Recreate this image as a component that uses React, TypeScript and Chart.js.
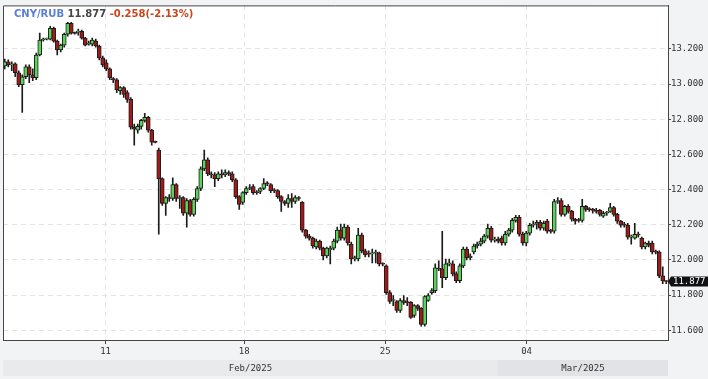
import React, { useEffect, useRef } from "react";
import { Chart, registerables } from "chart.js";
Chart.register(...registerables);

const symbol = "CNY/RUB";
const prevClose = 12.135;

const openP = [
  13.104, 13.127, 13.110, 13.115, 13.065, 12.997, 13.042, 13.098, 13.053, 13.037,
  13.166, 13.251, 13.256, 13.256, 13.318, 13.245, 13.194, 13.222, 13.284, 13.346,
  13.290, 13.296, 13.301, 13.262, 13.228, 13.228, 13.245, 13.217, 13.149, 13.121,
  13.087, 13.031, 13.025, 12.963, 12.980, 12.952, 12.913, 12.755, 12.738, 12.760,
  12.794, 12.811, 12.738, 12.670, 12.625, 12.462, 12.321, 12.355, 12.349, 12.428,
  12.349, 12.355, 12.265, 12.338, 12.259, 12.344, 12.406, 12.518, 12.569, 12.490,
  12.484, 12.462, 12.490, 12.484, 12.496, 12.490, 12.456, 12.360, 12.327, 12.383,
  12.406, 12.417, 12.383, 12.389, 12.406, 12.434, 12.428, 12.394, 12.394, 12.360,
  12.332, 12.321, 12.349, 12.332, 12.355, 12.327, 12.169, 12.135, 12.124, 12.073,
  12.107, 12.067, 12.022, 12.056, 12.067, 12.107, 12.169, 12.124, 12.186, 12.090,
  12.005, 12.005, 12.141, 12.051, 12.034, 12.034, 12.039, 12.039, 11.977, 11.966,
  11.814, 11.769, 11.763, 11.712, 11.769, 11.758, 11.758, 11.684, 11.740, 11.724,
  11.633, 11.769, 11.814, 11.825, 11.949, 11.949, 11.898, 11.977, 11.977, 11.920,
  11.882, 11.966, 12.062, 12.011, 12.045, 12.079, 12.090, 12.107, 12.135, 12.180,
  12.112, 12.118, 12.124, 12.096, 12.146, 12.169, 12.225, 12.242, 12.146, 12.096,
  12.152, 12.197, 12.203, 12.214, 12.180, 12.220, 12.163, 12.163, 12.332, 12.338,
  12.259, 12.304, 12.276, 12.231, 12.225, 12.225, 12.304, 12.287, 12.287, 12.282,
  12.282, 12.248, 12.265, 12.276, 12.298, 12.259, 12.220, 12.203, 12.197, 12.129,
  12.124, 12.146, 12.124, 12.073, 12.096, 12.096, 12.045, 12.045, 11.909, 11.880,
];

const highP = [
  13.143, 13.138, 13.127, 13.121, 13.076, 13.053, 13.110, 13.110, 13.087, 13.177,
  13.290, 13.262, 13.262, 13.329, 13.324, 13.251, 13.228, 13.290, 13.352, 13.352,
  13.296, 13.313, 13.307, 13.267, 13.245, 13.262, 13.256, 13.222, 13.160, 13.138,
  13.093, 13.037, 13.031, 12.986, 12.986, 12.963, 12.924, 12.772, 12.772, 12.800,
  12.834, 12.817, 12.743, 12.676, 12.636, 12.467, 12.360, 12.372, 12.467, 12.434,
  12.366, 12.360, 12.349, 12.344, 12.355, 12.417, 12.529, 12.625, 12.580, 12.501,
  12.496, 12.501, 12.513, 12.513, 12.507, 12.501, 12.462, 12.366, 12.389, 12.417,
  12.428, 12.428, 12.394, 12.411, 12.462, 12.445, 12.434, 12.406, 12.400, 12.366,
  12.338, 12.372, 12.377, 12.366, 12.360, 12.332, 12.174, 12.146, 12.129, 12.118,
  12.112, 12.073, 12.073, 12.079, 12.118, 12.186, 12.203, 12.203, 12.197, 12.101,
  12.022, 12.180, 12.152, 12.062, 12.051, 12.062, 12.056, 12.045, 11.983, 11.972,
  11.825, 11.797, 11.769, 11.780, 11.797, 11.786, 11.763, 11.746, 11.746, 11.729,
  11.797, 11.808, 11.836, 11.977, 11.994, 12.163, 12.005, 12.005, 11.994, 11.932,
  11.977, 12.073, 12.073, 12.034, 12.090, 12.101, 12.124, 12.146, 12.203, 12.191,
  12.129, 12.129, 12.135, 12.163, 12.180, 12.236, 12.253, 12.253, 12.158, 12.163,
  12.208, 12.220, 12.225, 12.225, 12.220, 12.231, 12.174, 12.344, 12.355, 12.349,
  12.310, 12.315, 12.282, 12.236, 12.236, 12.344, 12.310, 12.298, 12.293, 12.293,
  12.287, 12.276, 12.276, 12.321, 12.304, 12.265, 12.225, 12.214, 12.208, 12.141,
  12.208, 12.158, 12.129, 12.101, 12.107, 12.107, 12.056, 12.051, 11.960, 11.882,
];

const lowP = [
  13.087, 13.098, 13.076, 13.042, 12.986, 12.839, 13.031, 13.008, 13.020, 13.025,
  13.160, 13.245, 13.251, 13.251, 13.239, 13.166, 13.183, 13.211, 13.273, 13.284,
  13.284, 13.279, 13.256, 13.217, 13.222, 13.217, 13.211, 13.138, 13.098, 13.076,
  13.025, 13.008, 12.952, 12.941, 12.924, 12.896, 12.743, 12.653, 12.721, 12.743,
  12.783, 12.727, 12.653, 12.665, 12.146, 12.310, 12.253, 12.332, 12.338, 12.332,
  12.293, 12.253, 12.186, 12.248, 12.248, 12.332, 12.394, 12.507, 12.479, 12.467,
  12.417, 12.451, 12.467, 12.473, 12.479, 12.445, 12.349, 12.287, 12.315, 12.372,
  12.400, 12.372, 12.372, 12.377, 12.400, 12.422, 12.383, 12.383, 12.349, 12.276,
  12.310, 12.298, 12.298, 12.321, 12.338, 12.158, 12.124, 12.112, 12.067, 12.062,
  12.056, 12.000, 12.011, 11.977, 12.056, 12.096, 12.112, 12.112, 12.084, 11.977,
  11.994, 11.994, 12.039, 12.017, 12.017, 11.983, 11.983, 11.966, 11.966, 11.803,
  11.752, 11.740, 11.701, 11.701, 11.746, 11.740, 11.667, 11.673, 11.712, 11.622,
  11.622, 11.763, 11.803, 11.814, 11.938, 11.842, 11.887, 11.966, 11.909, 11.870,
  11.870, 11.955, 12.000, 12.000, 12.034, 12.067, 12.079, 12.096, 12.124, 12.101,
  12.101, 12.096, 12.084, 12.084, 12.135, 12.158, 12.214, 12.135, 12.084, 12.079,
  12.141, 12.186, 12.174, 12.169, 12.169, 12.152, 12.152, 12.152, 12.321, 12.248,
  12.248, 12.265, 12.220, 12.203, 12.214, 12.214, 12.276, 12.276, 12.265, 12.265,
  12.248, 12.242, 12.253, 12.270, 12.248, 12.208, 12.186, 12.186, 12.118, 12.090,
  12.118, 12.129, 12.062, 12.062, 12.073, 12.034, 12.034, 11.898, 11.864, 11.864,
];

const closeP = [
  13.127, 13.110, 13.115, 13.065, 12.997, 13.042, 13.098, 13.053, 13.037, 13.166,
  13.251, 13.256, 13.257, 13.318, 13.245, 13.194, 13.222, 13.284, 13.346, 13.290,
  13.289, 13.301, 13.262, 13.222, 13.234, 13.251, 13.217, 13.149, 13.110, 13.087,
  13.037, 13.025, 12.969, 12.980, 12.941, 12.913, 12.755, 12.743, 12.760, 12.794,
  12.811, 12.738, 12.670, 12.669, 12.462, 12.321, 12.355, 12.349, 12.428, 12.349,
  12.355, 12.265, 12.338, 12.259, 12.344, 12.406, 12.518, 12.569, 12.490, 12.484,
  12.462, 12.490, 12.484, 12.496, 12.490, 12.456, 12.360, 12.315, 12.383, 12.406,
  12.411, 12.383, 12.382, 12.406, 12.434, 12.433, 12.394, 12.393, 12.360, 12.332,
  12.321, 12.349, 12.332, 12.355, 12.349, 12.169, 12.135, 12.124, 12.079, 12.107,
  12.067, 12.022, 12.067, 12.067, 12.107, 12.169, 12.124, 12.186, 12.096, 12.005,
  12.011, 12.141, 12.051, 12.028, 12.033, 12.039, 12.040, 11.977, 11.976, 11.814,
  11.763, 11.770, 11.712, 11.769, 11.758, 11.757, 11.673, 11.740, 11.724, 11.633,
  11.791, 11.797, 11.825, 11.955, 11.948, 11.898, 11.977, 11.978, 11.920, 11.882,
  11.966, 12.062, 12.011, 12.022, 12.079, 12.090, 12.107, 12.135, 12.180, 12.112,
  12.113, 12.107, 12.096, 12.146, 12.169, 12.225, 12.242, 12.146, 12.096, 12.152,
  12.197, 12.203, 12.214, 12.180, 12.208, 12.163, 12.162, 12.332, 12.338, 12.259,
  12.304, 12.276, 12.231, 12.220, 12.224, 12.304, 12.287, 12.286, 12.282, 12.276,
  12.259, 12.265, 12.270, 12.298, 12.259, 12.220, 12.197, 12.197, 12.129, 12.130,
  12.146, 12.141, 12.073, 12.096, 12.084, 12.045, 12.044, 11.909, 11.880, 11.877,
];

// day-start positions (in bar-index units) for the x tick labels
const xTickPos = [29.3, 68.9, 109.2, 149.6];
const xTickLabels = ["11", "18", "25", "04"];
const yTicks = [11.6, 11.8, 12.0, 12.2, 12.4, 12.6, 12.8, 13.0, 13.2];
const monthLabels = ["Feb/2025", "Mar/2025"];
const monthStarts = [0, 141.4];

const MONO = "'DejaVu Sans Mono', monospace";
const SANS = "'DejaVu Sans', sans-serif";
const UP = "#5ad35a";
const DOWN = "#a11a1a";
const EDGE = "#1c1c1c";

export default function App() {
  const ref = useRef<HTMLCanvasElement>(null);

  useEffect(() => {
    const n = closeP.length;
    const bodies = openP.map((o, i) => ({ x: i + 0.5, y: [o, closeP[i]] }));
    const wicks = lowP.map((l, i) => ({ x: i + 0.5, y: [l, highP[i]] }));
    const bodyColors = openP.map((o, i) => (closeP[i] >= o ? UP : DOWN));
    const last = closeP[n - 1];
    const chg = last - prevClose;
    const pct = (chg / prevClose) * 100;

    const deco = {
      id: "deco",
      beforeDraw(chart: any) {
        const { ctx, chartArea: a } = chart;
        ctx.save();
        ctx.fillStyle = "#ffffff";
        ctx.fillRect(a.left, a.top, a.right - a.left, a.bottom - a.top);
        ctx.restore();
      },
      afterDraw(chart: any) {
        const { ctx, chartArea: a, scales } = chart;
        const xs = scales.x;
        const ys = scales.y;
        ctx.save();
        // frame
        ctx.strokeStyle = "#454545";
        ctx.lineWidth = 1;
        ctx.beginPath();
        ctx.moveTo(a.left + 0.5, a.bottom);
        ctx.lineTo(a.left + 0.5, a.top + 0.5);
        ctx.lineTo(a.right, a.top + 0.5);
        ctx.stroke();

        // month band
        const bandTop = 360;
        const bandH = 16;
        for (let m = 0; m < monthLabels.length; m++) {
          const x0 = xs.getPixelForValue(monthStarts[m]);
          const x1 = m + 1 < monthStarts.length ? xs.getPixelForValue(monthStarts[m + 1]) : a.right;
          ctx.fillStyle = m === 0 ? "#e9eaec" : "#e2e3e6";
          ctx.fillRect(x0, bandTop, x1 - x0, bandH);
          ctx.fillStyle = "#333";
          ctx.font = `9px ${MONO}`;
          ctx.textAlign = "center";
          ctx.textBaseline = "middle";
          ctx.fillText(monthLabels[m], (x0 + x1) / 2, bandTop + bandH / 2 + 0.5);
        }

        // title
        ctx.textAlign = "left";
        ctx.textBaseline = "alphabetic";
        ctx.font = `bold 10px ${SANS}`;
        let tx = 14;
        const ty = 17;
        const parts: [string, string][] = [
          [symbol, "#5b7fd8"],
          [last.toFixed(3), "#454545"],
          [`${chg.toFixed(3)}(${pct.toFixed(2)}%)`, "#c8461e"],
        ];
        parts.forEach(([t, c]) => {
          ctx.fillStyle = c;
          ctx.fillText(t, tx, ty);
          tx += ctx.measureText(t).width + 3.5;
        });

        // last price tag
        const py = ys.getPixelForValue(last);
        ctx.fillStyle = "#111";
        ctx.beginPath();
        ctx.moveTo(a.right, py);
        ctx.lineTo(a.right + 3, py - 5);
        ctx.lineTo(a.right + 40, py - 5);
        ctx.lineTo(a.right + 40, py + 5);
        ctx.lineTo(a.right + 3, py + 5);
        ctx.closePath();
        ctx.fill();
        ctx.fillStyle = "#fff";
        ctx.font = `9px ${MONO}`;
        ctx.textBaseline = "middle";
        ctx.fillText(last.toFixed(3), a.right + 5, py + 0.5);
        ctx.restore();
      },
    };

    const chart = new Chart(ref.current as HTMLCanvasElement, {
      type: "bar",
      data: {
        datasets: [
          {
            label: "body",
            data: bodies as any,
            backgroundColor: bodyColors,
            borderColor: EDGE,
            borderWidth: 1,
            borderSkipped: false,
            barThickness: 4,
            minBarLength: 1,
            grouped: false,
            order: 0,
          } as any,
          {
            label: "wick",
            data: wicks as any,
            backgroundColor: EDGE,
            borderWidth: 0,
            barThickness: 1,
            grouped: false,
            order: 1,
          } as any,
        ],
      },
      options: {
        responsive: true,
        maintainAspectRatio: false,
        animation: false,
        events: [],
        layout: { padding: { left: 3, top: 2, right: 0, bottom: 0 } },
        plugins: { legend: { display: false }, tooltip: { enabled: false } },
        scales: {
          x: {
            type: "linear",
            min: 0,
            max: n,
            offset: false,
            afterBuildTicks: (s: any) => {
              s.ticks = xTickPos.map((v) => ({ value: v }));
            },
            afterFit: (s: any) => {
              s.height = 39;
            },
            ticks: {
              autoSkip: false,
              maxRotation: 0,
              padding: 2,
              color: "#333",
              font: { family: MONO, size: 9 },
              callback: (_v: any, idx: number) => xTickLabels[idx],
            },
            grid: {
              offset: false,
              color: "#e4e4e4",
              tickColor: "#454545",
              tickLength: 4,
              lineWidth: 1,
            },
            border: { display: true, color: "#454545", width: 1, dash: [5, 4] },
          },
          y: {
            type: "linear",
            position: "right",
            min: 11.544,
            max: 13.448,
            afterBuildTicks: (s: any) => {
              s.ticks = yTicks.map((v) => ({ value: v }));
            },
            afterFit: (s: any) => {
              s.width = 40;
            },
            ticks: {
              padding: 0,
              color: "#333",
              font: { family: MONO, size: 9 },
              callback: (v: any) => Number(v).toFixed(3),
            },
            grid: { color: "#e4e4e4", tickColor: "#454545", tickLength: 3, lineWidth: 1 },
            border: { display: true, color: "#454545", width: 1, dash: [5, 4] },
          },
        },
      } as any,
      plugins: [deco],
    });
    return () => chart.destroy();
  }, []);

  return (
    <div
      style={{
        position: "absolute",
        left: 0,
        top: 0,
        width: 708,
        height: 379,
        background: "#f2f3f5",
      }}
    >
      <canvas ref={ref} />
    </div>
  );
}
